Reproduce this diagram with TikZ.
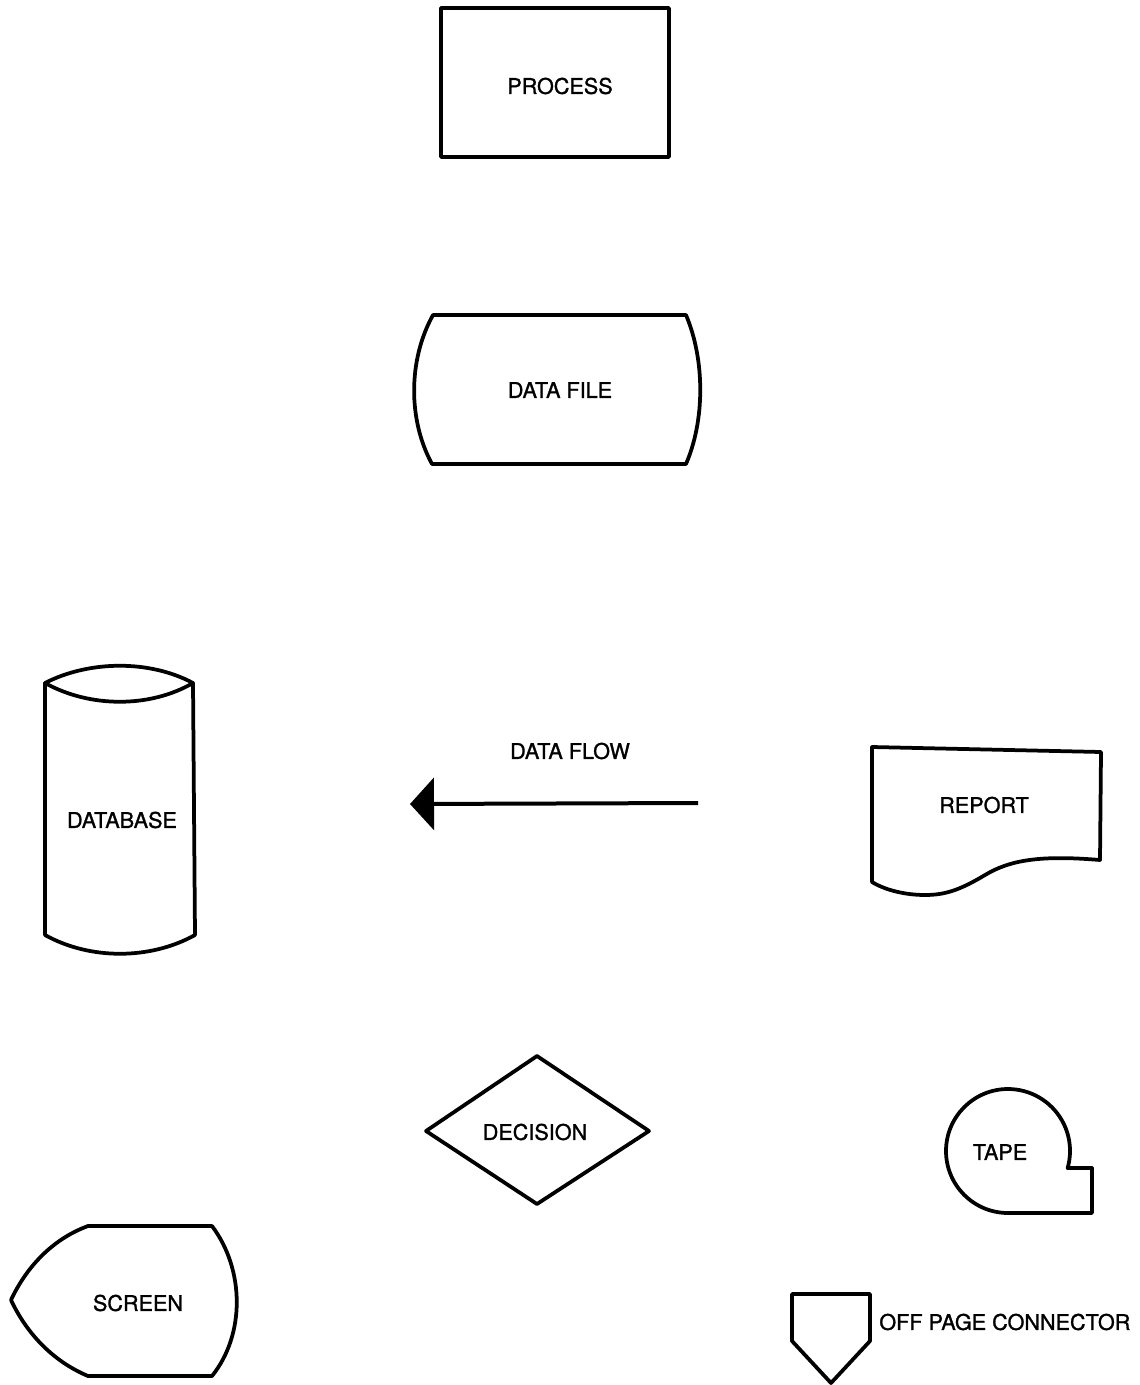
\documentclass[tikz,border=0pt]{standalone}
\usepackage{fontspec}
\setmainfont{TeX Gyre Heros}
\newfontfamily\lblfont{TeX Gyre Heros}[FakeBold=1.2]
\usetikzlibrary{arrows.meta}
\begin{document}
\begin{tikzpicture}[x={(0.02cm,0)}, y={(0,-0.02cm)},
  outline/.style={draw=black, line width=0.075cm, line join=round, line cap=round},
  lbl/.style={font=\lblfont\fontsize{12.3}{14}\selectfont, inner sep=0pt},
  flow/.style={draw=black, line width=0.08cm, -{Triangle[length=0.48cm,width=1.04cm]}}]
\useasboundingbox[fill=white] (0,0) rectangle (1139,1385);

% process box
\draw[outline] (441,8) rectangle (669,157);
\node[lbl] (process) at (560,86) {PROCESS};

% data file
\draw[outline] (433,315) -- (686,315)
  .. controls (705,360) and (705,420) .. (686,464) -- (432,464)
  .. controls (408,420) and (408,360) .. cycle;
\node[lbl] (datafile) at (560,390) {DATA FILE};

% database cylinder
\draw[outline] (45,683) .. controls (90,660) and (150,660) .. (193,683)
  -- (195,935) .. controls (150,960) and (90,960) .. (45,935) -- cycle;
\draw[outline] (45,683) .. controls (90,708) and (150,708) .. (193,683);
\node[lbl] (database) at (122,820) {DATABASE};

% data flow arrow
\node[lbl] (dataflow) at (570,751) {DATA FLOW};
\coordinate (flowstart) at (698,803);
\coordinate (flowend) at (410,804);
\draw[flow] (flowstart) -- (flowend);

% report document
\draw[outline] (872,747) -- (1101,752) -- (1100,860)
  .. controls (1040,855) and (1010,860) .. (985,875)
  .. controls (960,890) and (945,895) .. (925,895)
  .. controls (905,895) and (885,890) .. (872,882) -- cycle;
\node[lbl] (report) at (984,805) {REPORT};

% decision diamond
\draw[outline] (426,1131) -- (537,1056) -- (649,1131) -- (537,1204) -- cycle;
\node[lbl] (decision) at (535,1132) {DECISION};

% tape
\draw[outline] (1008,1213) arc[start angle=90, end angle=376, radius=62]
  -- (1092,1168) -- (1092,1213) -- cycle;
\node[lbl] (tape) at (1000,1152) {TAPE};

% screen
\draw[outline] (88,1226) -- (212,1226)
  .. controls (245,1270) and (245,1335) .. (212,1376) -- (88,1376)
  .. controls (50,1360) and (25,1330) .. (11,1300)
  .. controls (25,1270) and (50,1240) .. cycle;
\node[lbl] (screen) at (138,1303) {SCREEN};

% off page connector
\draw[outline] (792,1294) -- (870,1294) -- (870,1341) -- (831,1383) -- (792,1341) -- cycle;
\node[lbl, anchor=west] (offpage) at (879,1322) {OFF PAGE CONNECTOR};
\end{tikzpicture}
\end{document}
